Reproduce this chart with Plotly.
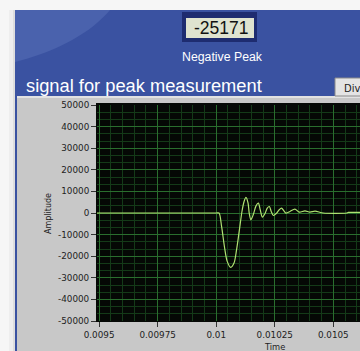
import plotly.graph_objects as go

W, H = 360, 351

# Captured waveform (time in seconds, amplitude in counts)
time_s = [0.009490, 0.009750, 0.010000, 0.010012, 0.010023, 0.010035, 0.010047,
          0.010062, 0.010076, 0.010087, 0.010099, 0.010110, 0.010119, 0.010127,
          0.010136, 0.010141, 0.010148, 0.010158, 0.010170, 0.010180, 0.010188,
          0.010197, 0.010208, 0.010218, 0.010227, 0.010235, 0.010244, 0.010258,
          0.010269, 0.010279, 0.010289, 0.010298, 0.010315, 0.010336, 0.010355,
          0.010379, 0.010400, 0.010422, 0.010457, 0.010557, 0.010564, 0.010615]
negative_peak = -25171
amplitude = [0, 0, 0, 0, -6200, -15500, -22400,
             negative_peak, -23200, -17000, -7800, 700, 5300, 7200,
             4600, -100, -3150, -850, 3300, 4550, 1500,
             -1900, -350, 2250, 3000, 700, -1150, -50,
             1500, 2250, 1000, -50, 700, 1800, 400,
             1000, 400, 850, 0, 0, 250, 250]

x_tick_vals = [0.0095, 0.00975, 0.01, 0.01025, 0.0105]
x_tick_text = ["0.0095", "0.00975", "0.01", "0.01025", "0.0105"]
y_tick_vals = [50000, 40000, 30000, 20000, 10000, 0,
               -10000, -20000, -30000, -40000, -50000]
y_tick_text = ["50000", "40000", "30000", "20000", "10000", "0",
               "-10000", "-20000", "-30000", "-40000", "-50000"]

# plot area in pixels
L, T, PW, PH = 97, 105, W - 97, 216


def px(x):
    return (x - L) / PW


def py(y):
    return (T + PH - y) / PH


def rect(x0, y0, x1, y1, fill, line=None, lw=0):
    return dict(type="rect", xref="paper", yref="paper", layer="below",
                x0=px(x0), x1=px(x1), y0=py(y1), y1=py(y0),
                fillcolor=fill, line=dict(color=line or fill, width=lw))


def path_px(points, fill):
    d = "M " + " L ".join(f"{px(a)},{py(b)}" for a, b in points) + " Z"
    return dict(type="path", xref="paper", yref="paper", layer="below",
                path=d, fillcolor=fill, line=dict(width=0))


# light arc in the top-left corner of the blue panel
arc = []
for i in range(21):
    t = i / 20
    ax = (1 - t) ** 2 * 15 + 2 * (1 - t) * t * 80 + t ** 2 * 110
    ay = (1 - t) ** 2 * 62 + 2 * (1 - t) * t * 45 + t ** 2 * 10
    arc.append((ax, ay))

shapes = [
    rect(9, 10, 13, 351, "#eeeeee"),
    rect(13, 10, 15, 351, "#dedede"),
    rect(15, 10, 361, 352, "#3a52a1"),
    path_px([(15, 10)] + arc + [(110, 10)], "#4a62ad"),
    rect(17, 96, 361, 352, "#e2e2e2"),
    rect(17, 98, 361, 352, "#c8c8c8"),
    rect(96, 103, 361, 322, "#050805"),
    rect(182, 12, 257, 42, "#1e2c70"),
    rect(186, 18, 254, 38, "#dfe3cf"),
    rect(335, 78, 362, 96, "#e4e4e4", "#8a8a8a", 1),
]


def label(x, y, text, size, color, xanchor="center", yanchor="middle",
          family="Liberation Sans, Arial, sans-serif", angle=0):
    return dict(x=px(x), y=py(y), xref="paper", yref="paper", text=text,
                showarrow=False, xanchor=xanchor, yanchor=yanchor,
                textangle=angle,
                font=dict(size=size, color=color, family=family))


annotations = [
    label(221, 28, str(negative_peak), 17.5, "#111111"),
    label(222, 57, "Negative Peak", 12.3, "#ffffff"),
    label(24, 85, "signal for peak measurement", 18.3, "#ffffff",
          xanchor="left"),
    label(342, 88, "Div", 10, "#222222", xanchor="left",
          family="DejaVu Sans, sans-serif"),
    label(48, 214, "Amplitude", 8, "#222222", angle=-90,
          family="DejaVu Sans, sans-serif"),
    dict(x=0.01025, y=py(347), xref="x", yref="paper", text="Time",
         showarrow=False, xanchor="center", yanchor="middle",
         font=dict(size=8.3, color="#222222", family="DejaVu Sans, sans-serif")),
]

fig = go.Figure(go.Scatter(
    x=time_s, y=amplitude, mode="lines",
    line=dict(color="#b0e272", width=1.2, shape="spline", smoothing=0.8),
    hoverinfo="skip"))

tick_font = dict(size=8.8, color="#1e1e1e", family="DejaVu Sans, sans-serif")

fig.update_layout(
    width=W, height=H,
    margin=dict(l=L, r=0, t=T, b=H - T - PH, pad=0),
    paper_bgcolor="#f6f6f6",
    plot_bgcolor="#050805",
    showlegend=False,
    shapes=shapes,
    annotations=annotations,
    xaxis=dict(
        range=[0.009491, 0.010614],
        tickvals=x_tick_vals, ticktext=x_tick_text,
        ticks="outside", ticklen=5, tickcolor="#333333", tickwidth=1,
        tickfont=tick_font,
        showgrid=True, gridcolor="#2a6e2e", gridwidth=1,
        zeroline=False, showline=False,
        minor=dict(dtick=0.00005, tick0=0.0095, showgrid=True,
                   gridcolor="#143a18", gridwidth=1),
    ),
    yaxis=dict(
        range=[-50000, 50000],
        tickvals=y_tick_vals, ticktext=y_tick_text,
        ticks="outside", ticklen=5, tickcolor="#333333", tickwidth=1,
        tickfont=tick_font,
        showgrid=True, gridcolor="#2a6e2e", gridwidth=1,
        zeroline=False, showline=False,
        minor=dict(dtick=10000 / 3, tick0=0, showgrid=True,
                   gridcolor="#143a18", gridwidth=1),
    ),
)

fig.write_html("out.html", config={"displayModeBar": False})
